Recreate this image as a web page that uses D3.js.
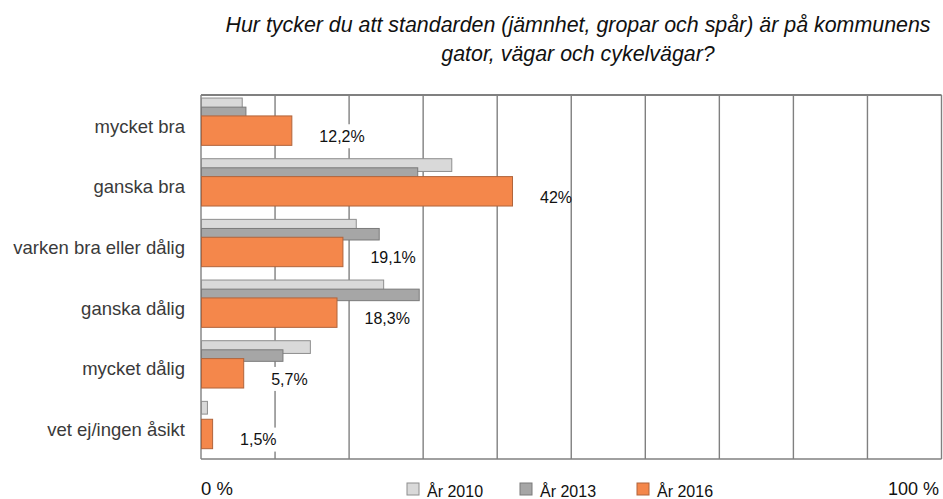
<!DOCTYPE html>
<html>
<head>
<meta charset="utf-8">
<script src="https://cdn.jsdelivr.net/npm/d3@7"></script>
<style>
  body { margin: 0; background: #fff; }
  #chart { width: 943px; height: 499px; }
  text { font-family: "Liberation Sans", Arial, sans-serif; }
</style>
</head>
<body>
<div id="chart"><svg width="943" height="499"></svg></div>
<script>
// data
const categories = ["mycket bra", "ganska bra", "varken bra eller dålig", "ganska dålig", "mycket dålig", "vet ej/ingen åsikt"];
const values2010 = [5.5, 33.8, 20.9, 24.6, 14.7, 0.8];
const values2013 = [6.0, 29.2, 24.0, 29.4, 11.0, 0];
const values2016 = [12.2, 42, 19.1, 18.3, 5.7, 1.5];
const valueLabels = ["12,2%", "42%", "19,1%", "18,3%", "5,7%", "1,5%"];
const seriesNames = ["År 2010", "År 2013", "År 2016"];
const titleLines = ["Hur tycker du att standarden (jämnhet, gropar och spår) är på kommunens",
                    "gator, vägar och cykelvägar?"];

const svg = d3.select("#chart").select("svg");
const margin = {top: 95, right: 1.5, bottom: 40, left: 201};
const width = 943, height = 499;
const plotW = width - margin.left - margin.right;
const plotH = height - margin.top - margin.bottom;

const x = d3.scaleLinear().domain([0, 100]).range([0, plotW]);
const y = d3.scaleBand().domain(categories).range([0, plotH]);
const bw = y.bandwidth();

// title
svg.append("g").selectAll("text")
  .data(titleLines).enter().append("text")
  .attr("x", 578).attr("y", (d, i) => 32 + i * 29)
  .attr("text-anchor", "middle")
  .style("font-style", "italic")
  .style("font-size", "21.4px")
  .attr("fill", "#111")
  .text(d => d);

const g = svg.append("g").attr("transform", "translate(" + margin.left + "," + margin.top + ")");

// grid
g.selectAll(".grid").data(d3.range(0, 101, 10)).enter().append("line")
  .attr("x1", d => x(d)).attr("x2", d => x(d))
  .attr("y1", 0).attr("y2", plotH)
  .attr("stroke", "#808080").attr("stroke-width", 1.4);
g.append("line").attr("x1", 0).attr("x2", plotW).attr("y1", 0).attr("y2", 0)
  .attr("stroke", "#808080").attr("stroke-width", 1.8);
g.append("line").attr("x1", 0).attr("x2", plotW).attr("y1", plotH).attr("y2", plotH)
  .attr("stroke", "#808080").attr("stroke-width", 1.4);

// bars: thin bars for 2010 and 2013, wide bar for 2016
const series = [
  {vals: values2010, fill: "#d9d9d9", stroke: "#8e8e8e", off: 0.05, h: 0.21},
  {vals: values2013, fill: "#a6a6a6", stroke: "#7a7a7a", off: 0.20, h: 0.19},
  {vals: values2016, fill: "#f4874b", stroke: "#b0643c", off: 0.345, h: 0.485}
];
series.forEach(s => {
  g.append("g").selectAll("rect")
    .data(categories).enter().append("rect")
    .filter((d, i) => s.vals[i] > 0)
    .attr("x", 0.5)
    .attr("y", d => y(d) + bw * s.off)
    .attr("width", d => x(s.vals[categories.indexOf(d)]))
    .attr("height", bw * s.h)
    .attr("fill", s.fill)
    .attr("stroke", s.stroke)
    .attr("stroke-width", 1);
});

// value labels with white box
const lab = g.append("g").selectAll("g")
  .data(categories).enter().append("g")
  .attr("transform", (d, i) => "translate(" + (x(values2016[i]) + 28) + "," + (y(d) + bw * 0.68) + ")");
lab.append("rect").attr("x", -4).attr("y", -12).attr("height", 24)
  .attr("width", (d, i) => valueLabels[i].length * 9 + 6)
  .attr("fill", "#fff");
lab.append("text").attr("dy", "0.35em")
  .style("font-size", "16px").attr("fill", "#111")
  .text((d, i) => valueLabels[i]);

// category labels
g.selectAll(".cat").data(categories).enter().append("text")
  .attr("x", -16).attr("y", d => y(d) + bw / 2 + 1)
  .attr("dy", "0.35em").attr("text-anchor", "end")
  .style("font-size", "18.5px").attr("fill", "#3a3a3a")
  .text(d => d);

// axis end labels
svg.append("text").attr("x", margin.left).attr("y", 495)
  .style("font-size", "18.5px").attr("fill", "#111").text("0 %");
svg.append("text").attr("x", 939).attr("y", 495).attr("text-anchor", "end")
  .style("font-size", "18px").attr("fill", "#111").text("100 %");

// legend
const legX = [407, 520, 637];
const leg = svg.append("g").selectAll("g").data(seriesNames).enter().append("g")
  .attr("transform", (d, i) => "translate(" + legX[i] + ",483)");
leg.append("rect").attr("width", 12).attr("height", 12)
  .attr("fill", (d, i) => series[i].fill).attr("stroke", (d, i) => series[i].stroke);
leg.append("text").attr("x", 20).attr("y", 14)
  .style("font-size", "16px").attr("fill", "#111").text(d => d);
</script>
</body>
</html>
